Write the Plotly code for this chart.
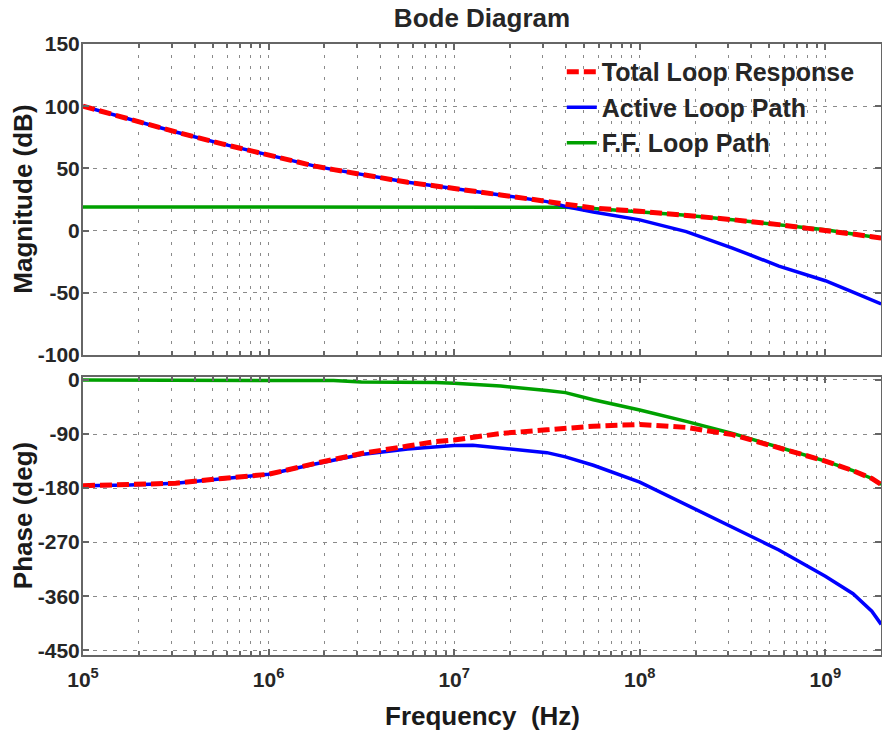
import plotly.graph_objects as go
from plotly.subplots import make_subplots

# frequency points (Hz)
freq = [1e5, 1.78e5, 3.16e5, 5.62e5, 1e6, 1.78e6, 2.24e6, 3.16e6, 5.62e6, 7.94e6,
        1e7, 1.26e7, 1.78e7, 3.16e7, 3.98e7, 5.62e7, 1e8, 1.78e8, 3.16e8, 5.62e8,
        1e9, 1.41e9, 1.78e9, 2e9]

# magnitude (dB)
mag_total = [100, 89.5, 79.3, 69.7, 60.5, 51.8, 49, 45, 38.8, 35.9,
             34, 32, 28.7, 23.4, 21.3, 18.1, 15.5, 12.4, 8.8, 4.8,
             0.6, -2.8, -4.9, -6]
mag_active = [100, 89.5, 79.3, 69.7, 60.5, 51.8, 49, 45, 38.8, 35.9,
              34, 32, 28.7, 23.3, 19.4, 15, 8.6, -0.8, -14, -28.5,
              -40.3, -49.4, -55.5, -59]
mag_ff = [19, 19, 19, 19, 19, 19, 19, 19, 19, 19,
          19, 19, 19, 18.9, 18.7, 17.7, 15.3, 12.3, 8.8, 4.8,
          0.6, -2.8, -4.9, -6]

# phase (deg)
ph_total = [-176, -175, -172, -164, -157, -139, -132, -122.5, -110, -102.5,
            -100, -96, -89, -83, -80, -77, -74, -79, -91, -113,
            -135, -151, -164, -174]
ph_active = [-176, -175, -172, -164, -157, -140, -133, -124, -115, -111,
             -109, -108.5, -113, -121, -128, -142, -170, -208, -246, -283,
             -327, -356, -385, -407]
ph_ff = [0, 0, 0, 0, 0, 0, -1, -3.5, -3.5, -4,
         -5.5, -7, -10, -17.5, -21, -33, -50, -69, -89, -112,
         -135, -151, -164, -174]

mag_ticks = [-100, -50, 0, 50, 100, 150]
mag_labels = ["-100", "-50", "0", "50", "100", "150"]
ph_ticks = [-450, -360, -270, -180, -90, 0]
ph_labels = ["-450", "-360", "-270", "-180", "-90", "0"]
decades = [1e5, 1e6, 1e7, 1e8, 1e9]
decade_labels = ["10<sup>5</sup>", "10<sup>6</sup>", "10<sup>7</sup>",
                 "10<sup>8</sup>", "10<sup>9</sup>"]
minor_vals = [m * d for d in decades for m in range(2, 10)]

RED = "#ff0000"
BLUE = "#0000ff"
GREEN = "#00a000"
FONT = "Liberation Sans"

fig = make_subplots(rows=2, cols=1, shared_xaxes=True, vertical_spacing=0.04)

# magnitude
fig.add_trace(go.Scatter(x=freq, y=mag_ff, mode="lines", name="F.F. Loop Path",
                         line=dict(color=GREEN, width=3.5), legendrank=3), row=1, col=1)
fig.add_trace(go.Scatter(x=freq, y=mag_active, mode="lines", name="Active Loop Path",
                         line=dict(color=BLUE, width=3.5), legendrank=2), row=1, col=1)
fig.add_trace(go.Scatter(x=freq, y=mag_total, mode="lines", name="Total Loop Response",
                         line=dict(color=RED, width=5, dash="12px,5px"), legendrank=1),
              row=1, col=1)

# phase
fig.add_trace(go.Scatter(x=freq, y=ph_ff, mode="lines", showlegend=False,
                         line=dict(color=GREEN, width=3.5)), row=2, col=1)
fig.add_trace(go.Scatter(x=freq, y=ph_active, mode="lines", showlegend=False,
                         line=dict(color=BLUE, width=3.5)), row=2, col=1)
fig.add_trace(go.Scatter(x=freq, y=ph_total, mode="lines", showlegend=False,
                         line=dict(color=RED, width=5, dash="12px,5px")), row=2, col=1)

axis_common = dict(
    showline=True, linecolor="#666666", linewidth=2, mirror="ticks",
    ticks="inside", ticklen=6, tickcolor="#666666", tickwidth=1.5,
    showgrid=True, gridcolor="#8a8a8a", gridwidth=1,
    tickfont=dict(family=FONT, size=21, color="#262626", weight="bold"),
    zeroline=False, automargin=False,
)
title_font = dict(family=FONT, size=26, color="#1a1a1a", weight="bold")

for r in (1, 2):
    fig.update_xaxes(
        type="log", range=[5, 9.3], tickmode="array", tickvals=decades,
        ticktext=decade_labels, griddash="3px,8px", ticklabelstandoff=5,
        minor=dict(tickmode="array", tickvals=minor_vals, ticks="inside", ticklen=4,
                   tickcolor="#666666", showgrid=True, gridcolor="#8a8a8a",
                   griddash="3px,8px"),
        showticklabels=(r == 2), row=r, col=1, **axis_common)

fig.update_yaxes(range=[-100, 150], tickmode="array", tickvals=mag_ticks,
                 ticktext=mag_labels, griddash="4px,6px", ticklabelstandoff=-3,
                 row=1, col=1, **axis_common)
fig.update_yaxes(range=[-458, 5], tickmode="array", tickvals=ph_ticks,
                 ticktext=ph_labels, griddash="4px,6px", ticklabelstandoff=-3,
                 row=2, col=1, **axis_common)

# axis titles as annotations for exact placement
fig.add_annotation(text="Magnitude (dB)", textangle=-90, xref="paper", yref="paper",
                   x=-0.075, y=0.7455, xanchor="center", yanchor="middle",
                   showarrow=False, font=title_font)
fig.add_annotation(text="Phase (deg)", textangle=-90, xref="paper", yref="paper",
                   x=-0.075, y=0.2275, xanchor="center", yanchor="middle",
                   showarrow=False, font=title_font)
fig.add_annotation(text="Frequency  (Hz)", xref="paper", yref="paper",
                   x=0.5, y=-0.100, xanchor="center", yanchor="middle",
                   showarrow=False, font=title_font)

fig.update_layout(
    width=882, height=732,
    margin=dict(l=83, r=1, t=44, b=77, autoexpand=False),
    paper_bgcolor="white", plot_bgcolor="white",
    title=dict(text="Bode Diagram", x=0.5, xref="paper", xanchor="center",
               y=1 - 18 / 732, yanchor="middle",
               font=dict(family=FONT, size=26, color="#262626", weight="bold")),
    legend=dict(x=0.6, xanchor="left", y=0.992, yanchor="top",
                bgcolor="rgba(0,0,0,0)", borderwidth=0,
                font=dict(family=FONT, size=25, color="#262626", weight="bold")),
    showlegend=True,
)
fig.layout.yaxis.domain = [0.491, 1.0]
fig.layout.yaxis2.domain = [0.0, 0.455]

fig.write_html("out.html", config={"displayModeBar": False},
               post_script="document.body.style.margin='0px';")
